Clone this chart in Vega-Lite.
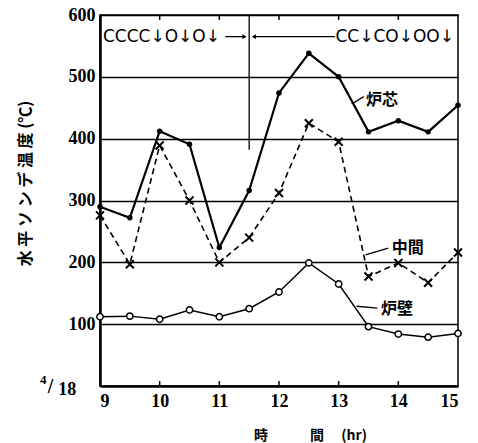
{
  "$schema": "https://vega.github.io/schema/vega-lite/v6.json",
  "width": 358,
  "height": 371,
  "autosize": "none",
  "padding": {"left": 100, "top": 15, "right": 20, "bottom": 57},
  "background": "white",
  "config": {
    "view": {"stroke": "black", "strokeWidth": 1.5},
    "axis": {"labelFont": "Liberation Serif", "labelFontWeight": "bold", "labelFontSize": 18, "labelColor": "black"}
  },
  "datasets": {
    "series": [
      {"s": "core", "t": 9, "v": 290}, {"s": "core", "t": 9.5, "v": 272}, {"s": "core", "t": 10, "v": 412}, {"s": "core", "t": 10.5, "v": 391},
      {"s": "core", "t": 11, "v": 224}, {"s": "core", "t": 11.5, "v": 316}, {"s": "core", "t": 12, "v": 474}, {"s": "core", "t": 12.5, "v": 538},
      {"s": "core", "t": 13, "v": 500}, {"s": "core", "t": 13.5, "v": 411}, {"s": "core", "t": 14, "v": 429}, {"s": "core", "t": 14.5, "v": 411},
      {"s": "core", "t": 15, "v": 454},
      {"s": "mid", "t": 9, "v": 276}, {"s": "mid", "t": 9.5, "v": 197}, {"s": "mid", "t": 10, "v": 389}, {"s": "mid", "t": 10.5, "v": 300},
      {"s": "mid", "t": 11, "v": 200}, {"s": "mid", "t": 11.5, "v": 240}, {"s": "mid", "t": 12, "v": 312}, {"s": "mid", "t": 12.5, "v": 425},
      {"s": "mid", "t": 13, "v": 395}, {"s": "mid", "t": 13.5, "v": 177}, {"s": "mid", "t": 14, "v": 199}, {"s": "mid", "t": 14.5, "v": 167},
      {"s": "mid", "t": 15, "v": 216},
      {"s": "wall", "t": 9, "v": 112}, {"s": "wall", "t": 9.5, "v": 113}, {"s": "wall", "t": 10, "v": 108}, {"s": "wall", "t": 10.5, "v": 123},
      {"s": "wall", "t": 11, "v": 112}, {"s": "wall", "t": 11.5, "v": 125}, {"s": "wall", "t": 12, "v": 152}, {"s": "wall", "t": 12.5, "v": 199},
      {"s": "wall", "t": 13, "v": 165}, {"s": "wall", "t": 13.5, "v": 96}, {"s": "wall", "t": 14, "v": 84}, {"s": "wall", "t": 14.5, "v": 79},
      {"s": "wall", "t": 15, "v": 85}
    ],
    "codes": [
      {"txt": "CCCC↓︎O↓︎O↓︎", "t": 10.03, "v": 564},
      {"txt": "CC↓︎CO↓︎OO↓︎", "t": 13.94, "v": 564}
    ],
    "labels": [
      {"txt": "炉芯", "t": 13.46, "v": 463},
      {"txt": "中間", "t": 13.89, "v": 223},
      {"txt": "炉壁", "t": 13.71, "v": 125}
    ],
    "segs": [
      {"t": 11.5, "v": 600, "t2": 11.5, "v2": 382},
      {"t": 11.1, "v": 565, "t2": 11.44, "v2": 565},
      {"t": 12.94, "v": 565, "t2": 11.56, "v2": 565},
      {"t": 13.22, "v": 456, "t2": 13.42, "v2": 468},
      {"t": 13.83, "v": 223, "t2": 13.45, "v2": 212},
      {"t": 13.3, "v": 129, "t2": 13.65, "v2": 126}
    ],
    "heads": [
      {"t": 11.42, "v": 565, "dir": "r"},
      {"t": 11.58, "v": 565, "dir": "l"}
    ],
    "ticks": [
      {"t": 10, "v": 600, "v2": 592}, {"t": 11, "v": 600, "v2": 592}, {"t": 12, "v": 600, "v2": 592}, {"t": 13, "v": 600, "v2": 592}, {"t": 14, "v": 600, "v2": 592},
      {"t": 10, "v": 0, "v2": 8}, {"t": 11, "v": 0, "v2": 8}, {"t": 12, "v": 0, "v2": 8}, {"t": 13, "v": 0, "v2": 8}, {"t": 14, "v": 0, "v2": 8}
    ],
    "date": [
      {"txt": "4", "t": 8.05, "v": 10, "k": "a"},
      {"txt": "/", "t": 8.17, "v": -2, "k": "b"},
      {"txt": "18", "t": 8.45, "v": -7, "k": "c"}
    ]
  },
  "encoding": {
    "x": {"field": "t", "type": "quantitative", "scale": {"domain": [9, 15], "nice": false, "zero": false},
      "axis": {"values": [9, 10, 11, 12, 13, 14, 15], "format": "d", "labelOverlap": false, "ticks": false, "grid": false, "domainColor": "black", "domainWidth": 2.5,
        "labelPadding": 6, "labelAngle": 0,
        "title": "時　　　間　 (hr)", "titleFont": "Noto Sans CJK JP", "titleFontWeight": "bold", "titleFontSize": 14, "titleColor": "black",
        "titleX": 210, "titleY": 49, "titleBaseline": "middle", "titleAnchor": "middle"}},
    "y": {"field": "v", "type": "quantitative", "scale": {"domain": [0, 600], "nice": false},
      "axis": {"values": [100, 200, 300, 400, 500, 600], "format": "d", "ticks": false, "grid": true, "gridColor": "black", "gridWidth": 1.5, "gridOpacity": 1,
        "domainColor": "black", "domainWidth": 2.5, "labelPadding": 5,
        "title": "水 平 ソ ン デ 温 度 (℃)", "titleFont": "Noto Sans CJK JP", "titleFontWeight": "bold", "titleFontSize": 16, "titleColor": "black",
        "titleX": -75, "titleY": 168, "titleBaseline": "middle", "titleAngle": -90, "titleAnchor": "middle"}}
  },
  "layer": [
    {
      "data": {"name": "ticks"},
      "mark": {"type": "rule", "stroke": "black", "strokeWidth": 1.5, "clip": false},
      "encoding": {"y2": {"field": "v2"}}
    },
    {
      "data": {"name": "series"},
      "transform": [{"filter": "datum.s === 'core'"}],
      "mark": {"type": "line", "stroke": "black", "strokeWidth": 2.2, "clip": false},
      "encoding": {}
    },
    {
      "data": {"name": "series"},
      "transform": [{"filter": "datum.s === 'core'"}],
      "mark": {"type": "point", "shape": "circle", "filled": true, "fill": "black", "opacity": 1, "size": 30, "clip": false}
    },
    {
      "data": {"name": "series"},
      "transform": [{"filter": "datum.s === 'mid'"}],
      "mark": {"type": "line", "stroke": "black", "strokeWidth": 1.6, "strokeDash": [6, 4], "clip": false},
      "encoding": {}
    },
    {
      "data": {"name": "series"},
      "transform": [{"filter": "datum.s === 'mid'"}],
      "mark": {"type": "point", "shape": "M-1,-1L1,1M-1,1L1,-1", "filled": false, "stroke": "black", "strokeWidth": 2, "opacity": 1, "size": 64, "clip": false}
    },
    {
      "data": {"name": "series"},
      "transform": [{"filter": "datum.s === 'wall'"}],
      "mark": {"type": "line", "stroke": "black", "strokeWidth": 1.5, "clip": false},
      "encoding": {}
    },
    {
      "data": {"name": "series"},
      "transform": [{"filter": "datum.s === 'wall'"}],
      "mark": {"type": "point", "shape": "circle", "filled": true, "fill": "white", "stroke": "black", "strokeWidth": 1.5, "opacity": 1, "size": 40, "clip": false}
    },
    {
      "data": {"name": "segs"},
      "mark": {"type": "rule", "stroke": "black", "strokeWidth": 1.3, "clip": false},
      "encoding": {"x2": {"field": "t2"}, "y2": {"field": "v2"}}
    },
    {
      "data": {"name": "heads"},
      "transform": [{"filter": "datum.dir === 'r'"}],
      "mark": {"type": "point", "shape": "triangle-right", "filled": true, "fill": "black", "opacity": 1, "size": 22, "clip": false}
    },
    {
      "data": {"name": "heads"},
      "transform": [{"filter": "datum.dir === 'l'"}],
      "mark": {"type": "point", "shape": "triangle-left", "filled": true, "fill": "black", "opacity": 1, "size": 22, "clip": false}
    },
    {
      "data": {"name": "codes"},
      "mark": {"type": "text", "font": "DejaVu Sans", "fontSize": 17, "align": "center", "baseline": "middle", "color": "black", "clip": false},
      "encoding": {"text": {"field": "txt"}}
    },
    {
      "data": {"name": "labels"},
      "mark": {"type": "text", "font": "Noto Sans CJK JP", "fontWeight": "bold", "fontSize": 16, "align": "left", "baseline": "middle", "color": "black", "clip": false},
      "encoding": {"text": {"field": "txt"}}
    },
    {
      "data": {"name": "date"},
      "transform": [{"filter": "datum.k === 'a'"}],
      "mark": {"type": "text", "font": "Liberation Serif", "fontWeight": "bold", "fontSize": 13, "align": "center", "baseline": "middle", "color": "black", "clip": false},
      "encoding": {"text": {"field": "txt"}}
    },
    {
      "data": {"name": "date"},
      "transform": [{"filter": "datum.k === 'b'"}],
      "mark": {"type": "text", "font": "Liberation Serif", "fontWeight": "bold", "fontSize": 20, "align": "center", "baseline": "middle", "color": "black", "clip": false},
      "encoding": {"text": {"field": "txt"}}
    },
    {
      "data": {"name": "date"},
      "transform": [{"filter": "datum.k === 'c'"}],
      "mark": {"type": "text", "font": "Liberation Serif", "fontWeight": "bold", "fontSize": 18, "align": "center", "baseline": "middle", "color": "black", "clip": false},
      "encoding": {"text": {"field": "txt"}}
    }
  ]
}
